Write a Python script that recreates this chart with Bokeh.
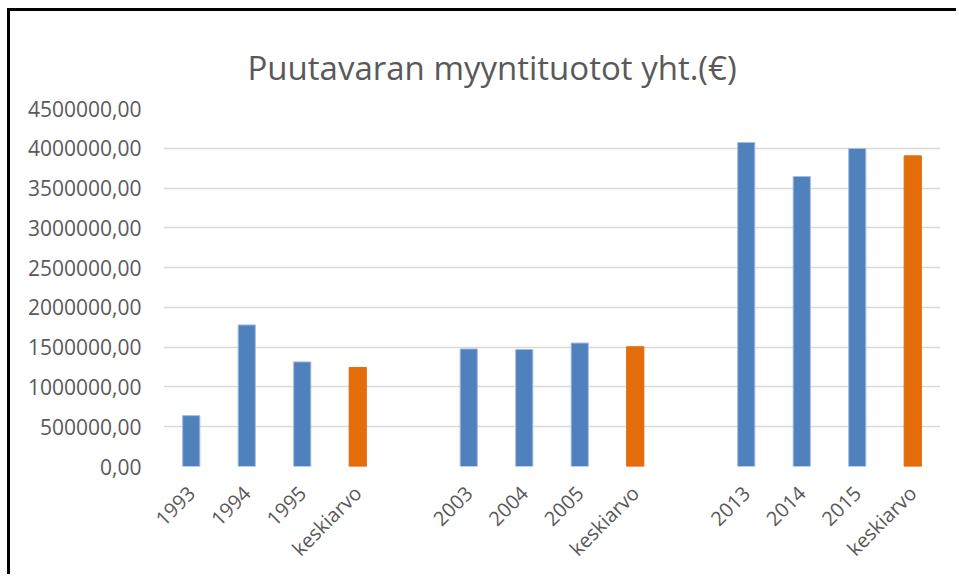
from math import pi
from bokeh.plotting import figure
from bokeh.models import ColumnDataSource, Range1d, FixedTicker
from bokeh.embed import file_html
from bokeh.resources import INLINE

# ---- data ----
groups = [
    ["1993", "1994", "1995", "keskiarvo"],
    ["2003", "2004", "2005", "keskiarvo"],
    ["2013", "2014", "2015", "keskiarvo"],
]
values = [
    [640000, 1780000, 1315000, 1245000],
    [1478000, 1470000, 1552000, 1505000],
    [4073000, 3645000, 3997000, 3905000],
]
y_ticks = [0, 500000, 1000000, 1500000, 2000000, 2500000, 3000000, 3500000, 4000000, 4500000]
title_text = "Puutavaran myyntituotot yht.(€)"

BLUE = "#4F81BD"
ORANGE = "#E46C0A"
TXT = "#595959"
FONT = "Open Sans"

xs, tops, labels, colors, lines = [], [], [], [], []
for g, (labs, vals) in enumerate(zip(groups, values)):
    for i, (lab, v) in enumerate(zip(labs, vals)):
        xs.append(g * (len(labs) + 1) + i)
        tops.append(v)
        labels.append(lab)
        avg = lab == "keskiarvo"
        colors.append(ORANGE if avg else BLUE)
        lines.append(ORANGE if avg else "#A7BFDD")

src = ColumnDataSource(dict(x=xs, top=tops, color=colors, line=lines))

n_slots = len(groups) * (len(groups[0]) + 1) - 1

p = figure(width=949, height=566, output_backend="svg", toolbar_location=None,
           x_range=Range1d(-0.5, n_slots - 0.5), y_range=Range1d(0, y_ticks[-1]),
           min_border_left=153, min_border_right=19, min_border_top=97, min_border_bottom=111)
p.styles = {"border-left": "3px solid black", "border-top": "3px solid black",
            "margin-left": "7px", "margin-top": "8px"}

p.vbar(x="x", top="top", width=0.31, fill_color="color", line_color="line",
       line_width=1, source=src)

p.title.text = title_text
p.title.align = "left"
p.title.offset = 84
p.title.vertical_align = "top"
p.title.standoff = 34
p.title.text_font = FONT
p.title.text_font_size = "33px"
p.title.text_font_style = "normal"
p.title.text_color = TXT

p.outline_line_color = None
p.background_fill_color = "white"
p.border_fill_color = "white"

p.xgrid.grid_line_color = None
p.ygrid.grid_line_color = "#D9D9D9"
p.ygrid.grid_line_width = 1.5

p.yaxis.ticker = FixedTicker(ticks=y_ticks)
p.yaxis.major_label_overrides = {t: f"{t},00" for t in y_ticks}
p.xaxis.ticker = FixedTicker(ticks=xs)
p.xaxis.major_label_overrides = {x: l for x, l in zip(xs, labels)}
p.xaxis.major_label_orientation = pi / 4

for ax in (p.xaxis, p.yaxis):
    ax.axis_line_color = None
    ax.major_tick_line_color = None
    ax.minor_tick_line_color = None
    ax.major_label_text_font = FONT
    ax.major_label_text_color = TXT
p.yaxis.major_label_text_font_size = "21px"
p.xaxis.major_label_text_font_size = "20px"
p.yaxis.major_label_standoff = 16
p.xaxis.major_label_standoff = 17

open("out.html", "w").write(file_html(p, INLINE))
